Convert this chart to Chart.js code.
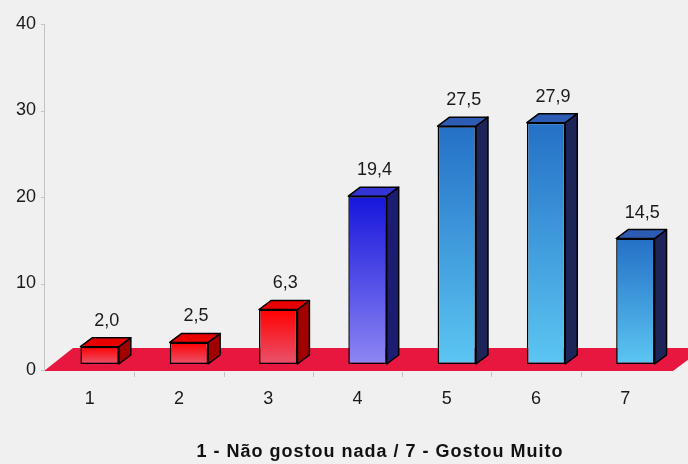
<!DOCTYPE html>
<html lang="pt">
<head>
<meta charset="utf-8">
<script src="https://cdn.jsdelivr.net/npm/chart.js@4.4.1/dist/chart.umd.min.js"></script>
<style>
  html, body { margin: 0; padding: 0; background: #f0f0f0; }
  #wrap { width: 688px; height: 464px; position: relative; }
</style>
</head>
<body>
<div id="wrap"><canvas id="grafico"></canvas></div>
<script>
// dados
const categorias = ['1', '2', '3', '4', '5', '6', '7'];
const valores = [2.0, 2.5, 6.3, 19.4, 27.5, 27.9, 14.5];
const ticksY = [0, 10, 20, 30, 40];
const tituloEixo = '1 - Não gostou nada / 7 - Gostou Muito';

// cores: frente (topo -> base), lateral, tampa
const corTopo = ['#ff0000', '#ff0000', '#ff0000', '#1616dc', '#2470c6', '#2470c6', '#2470c6'];
const corBase = ['#e8546c', '#e8546c', '#e8546c', '#8e86f2', '#5cc6f2', '#5cc6f2', '#5cc6f2'];
const corLado = ['#a00000', '#a00000', '#a00000', '#1c1c70', '#1c2458', '#1c2458', '#1c2458'];
const corTampa = ['#e80000', '#e80000', '#e80000', '#3434d4', '#2c5cb4', '#2c5cb4', '#2c5cb4'];

const DX = 12, DY = 9;
const fonte = 'Arial, "Liberation Sans", sans-serif';

function poligono(ctx, pts, cor) {
    ctx.beginPath();
    ctx.moveTo(pts[0][0], pts[0][1]);
    pts.slice(1).forEach(p => ctx.lineTo(p[0], p[1]));
    ctx.closePath();
    ctx.fillStyle = cor;
    ctx.fill();
    ctx.stroke();
}

const barras3d = {
    id: 'barras3d',
    beforeDatasetsDraw(chart) {
        const { ctx, chartArea: a, scales: { y } } = chart;
        const z = y.getPixelForValue(0);
        ctx.save();
        // piso
        ctx.fillStyle = '#e8173f';
        ctx.beginPath();
        ctx.moveTo(a.left - 11, z + 7);
        ctx.lineTo(a.left + 18, z - 16);
        ctx.lineTo(a.right + 24, z - 16);
        ctx.lineTo(a.right - 7, z + 7);
        ctx.closePath();
        ctx.fill();
        // eixo y
        ctx.strokeStyle = '#c4c4c4';
        ctx.lineWidth = 1;
        ctx.beginPath();
        ctx.moveTo(a.left - 10.5, y.getPixelForValue(ticksY[ticksY.length - 1]) + 6);
        ctx.lineTo(a.left - 10.5, z + 7);
        ticksY.forEach(v => {
            const py = Math.round(y.getPixelForValue(v) + 6) + 0.5;
            ctx.moveTo(a.left - 14, py);
            ctx.lineTo(a.left - 10.5, py);
        });
        ctx.stroke();
        // marcas do eixo x
        const w = (a.right - a.left) / categorias.length;
        ctx.beginPath();
        for (let k = 1; k < categorias.length; k++) {
            const px = Math.round(a.left + k * w - 10) + 0.5;
            ctx.moveTo(px, z + 8);
            ctx.lineTo(px, z + 13);
        }
        ctx.stroke();
        ctx.restore();
    },
    afterDatasetsDraw(chart) {
        const { ctx } = chart;
        const dados = chart.data.datasets[0].data;
        ctx.save();
        ctx.strokeStyle = '#000';
        ctx.lineWidth = 1.5;
        ctx.lineJoin = 'round';
        chart.getDatasetMeta(0).data.forEach((bar, i) => {
            const l = bar.x - bar.width / 2, r = bar.x + bar.width / 2;
            const t = bar.y, b = bar.base;
            poligono(ctx, [[r, t], [r + DX, t - DY], [r + DX, b - DY], [r, b]], corLado[i]);
            poligono(ctx, [[l, t], [l + DX, t - DY], [r + DX, t - DY], [r, t]], corTampa[i]);
            ctx.fillStyle = '#1a1a1a';
            ctx.font = '18px ' + fonte;
            ctx.textAlign = 'center';
            ctx.textBaseline = 'middle';
            ctx.fillText(dados[i].toFixed(1).replace('.', ','), bar.x + 7, t - 26);
        });
        ctx.restore();
    },
    afterDraw(chart) {
        const { ctx } = chart;
        ctx.save();
        ctx.fillStyle = '#111';
        ctx.font = 'bold 18px ' + fonte;
        ctx.letterSpacing = '1px';
        ctx.textAlign = 'center';
        ctx.textBaseline = 'middle';
        ctx.fillText(tituloEixo, 380, 452);
        ctx.restore();
    }
};

new Chart(document.getElementById('grafico'), {
    type: 'bar',
    data: {
        labels: categorias,
        datasets: [{
            data: valores,
            backgroundColor: c => {
                const i = c.dataIndex;
                const chart = c.chart;
                if (!chart.chartArea || c.raw === undefined) return corTopo[i];
                const y = chart.scales.y;
                const g = chart.ctx.createLinearGradient(0, y.getPixelForValue(c.raw), 0, y.getPixelForValue(0));
                g.addColorStop(0, corTopo[i]);
                g.addColorStop(1, corBase[i]);
                return g;
            },
            borderColor: '#000',
            borderWidth: 1.5,
            borderSkipped: false,
            barPercentage: 0.43,
            categoryPercentage: 1
        }]
    },
    options: {
        responsive: true,
        maintainAspectRatio: false,
        animation: false,
        layout: { padding: { top: 18, right: 8, left: 0, bottom: 0 } },
        plugins: { legend: { display: false }, tooltip: { enabled: false } },
        scales: {
            x: {
                grid: { display: false, drawTicks: false },
                border: { display: false },
                ticks: { color: '#1a1a1a', font: { size: 18, family: fonte }, padding: 24, labelOffset: -10 },
                afterFit: s => { s.height = 100; s.paddingLeft = 0; s.paddingRight = 0; }
            },
            y: {
                min: 0, max: 40,
                grid: { display: false, drawTicks: false },
                border: { display: false },
                ticks: { stepSize: 10, color: '#1a1a1a', font: { size: 18, family: fonte }, padding: 19, labelOffset: 6 },
                afterFit: s => { s.width = 55; s.paddingTop = 0; s.paddingBottom = 0; }
            }
        }
    },
    plugins: [barras3d]
});
</script>
</body>
</html>
